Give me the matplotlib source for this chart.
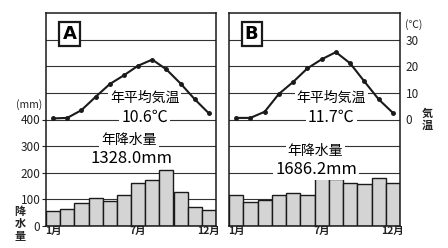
import matplotlib
matplotlib.use('Agg')
import matplotlib.pyplot as plt

plt.rcParams['font.family'] = ['Noto Sans CJK JP', 'DejaVu Sans']

# 月ごとのデータ
months = list(range(1, 13))
month_labels = {1: '1月', 7: '7月', 12: '12月'}

temp_a = [0.4, 0.6, 3.5, 8.5, 13.3, 16.6, 20.2, 22.5, 18.8, 13.5, 7.6, 2.3]
precip_a = [57, 63, 85, 107, 95, 116, 160, 174, 211, 126, 73, 61]

temp_b = [0.6, 0.6, 2.9, 9.6, 14.1, 19.2, 22.6, 25.3, 21.1, 14.3, 7.6, 2.5]
precip_b = [115, 90, 99, 116, 125, 118, 189, 178, 160, 156, 181, 160]

panels = [
    {'name': 'A', 'temp': temp_a, 'precip': precip_a,
     'temp_text': '10.6℃', 'precip_text': '1328.0mm'},
    {'name': 'B', 'temp': temp_b, 'precip': precip_b,
     'temp_text': '11.7℃', 'precip_text': '1686.2mm'},
]

W, H = 448, 248
fig = plt.figure(figsize=(W / 100, H / 100), dpi=100)


def px_axes(left, right, top, bottom):
    return fig.add_axes([left / W, (H - bottom) / H, (right - left) / W, (bottom - top) / H])


ax_a = px_axes(46, 216, 13, 226)
ax_b = px_axes(229, 400, 13, 226)
axes = [ax_a, ax_b]

white_box = dict(facecolor='white', edgecolor='none', pad=1.5)

# text positions (axes fraction) for each panel
text_pos = [
    {'label': (0.138, 0.901), 'temp_title': (0.58, 0.601), 'temp_val': (0.58, 0.512),
     'precip_title': (0.49, 0.404), 'precip_val': (0.50, 0.317)},
    {'label': (0.132, 0.901), 'temp_title': (0.599, 0.601), 'temp_val': (0.599, 0.512),
     'precip_title': (0.506, 0.354), 'precip_val': (0.51, 0.263)},
]

for i, (ax, p) in enumerate(zip(axes, panels)):
    ax.bar(months, p['precip'], width=1.0, color='#d4d4d4', edgecolor='#1a1a1a',
           linewidth=1.0, zorder=2)
    for g in range(100, 800, 100):
        ax.axhline(g, color='#333333', linewidth=0.8, zorder=1)
    ax.set_xlim(0.5, 12.5)
    ax.set_ylim(0, 800)
    ax.set_xticks([])
    for m, lab in month_labels.items():
        ax.text(m, -18, lab, ha='center', va='center', fontsize=7.5,
                fontweight='bold', color='#222222')
    for s in ax.spines.values():
        s.set_linewidth(1.1)
        s.set_color('#1a1a1a')

    tx = ax.twinx()
    tx.set_ylim(-40, 40)
    tx.plot(months, p['temp'], color='#1a1a1a', linewidth=1.5, marker='o',
            markersize=2.5, zorder=5)
    tx.set_xlim(0.5, 12.5)

    tp = text_pos[i]
    ax.text(*tp['label'], p['name'], transform=ax.transAxes, ha='center', va='center',
            fontsize=13, fontweight='bold', family='DejaVu Sans', zorder=6,
            bbox=dict(facecolor='white', edgecolor='#1a1a1a', linewidth=1.6,
                      boxstyle='square,pad=0.18'))
    ax.text(*tp['temp_title'], '年平均気温', transform=ax.transAxes, ha='center',
            va='center', fontsize=10, zorder=4, bbox=white_box)
    ax.text(*tp['temp_val'], p['temp_text'], transform=ax.transAxes, ha='center',
            va='center', fontsize=11.5, zorder=4, bbox=white_box)
    ax.text(*tp['precip_title'], '年降水量', transform=ax.transAxes, ha='center',
            va='center', fontsize=10, zorder=4, bbox=white_box)
    ax.text(*tp['precip_val'], p['precip_text'], transform=ax.transAxes, ha='center',
            va='center', fontsize=12, zorder=4, bbox=white_box)

    if i == 0:
        ax.set_yticks([0, 100, 200, 300, 400])
        ax.tick_params(axis='y', length=3, width=0.8, labelsize=8.5, pad=1,
                       colors='#222222')
        tx.set_yticks([])
        ax.text(-0.1, 0.568, '(mm)', transform=ax.transAxes, ha='center', va='center',
                fontsize=7.5, color='#222222')
        ax.text(-0.153, 0.1, '降\n水\n量', transform=ax.transAxes, ha='center',
                va='top', fontsize=8, fontweight='bold', linespacing=0.95,
                color='#222222')
    else:
        ax.set_yticks([])
        tx.set_yticks([0, 10, 20, 30])
        tx.tick_params(axis='y', length=0, labelsize=8.5, pad=4, colors='#222222')
        tx.text(1.08, 0.944, '(℃)', transform=tx.transAxes, ha='center', va='center',
                fontsize=7.5, color='#222222')
        tx.text(1.16, 0.56, '気\n温', transform=tx.transAxes, ha='center', va='top',
                fontsize=8, fontweight='bold', linespacing=0.95, color='#222222')
    for s in tx.spines.values():
        s.set_visible(False)

fig.savefig('out.png', dpi=100)
